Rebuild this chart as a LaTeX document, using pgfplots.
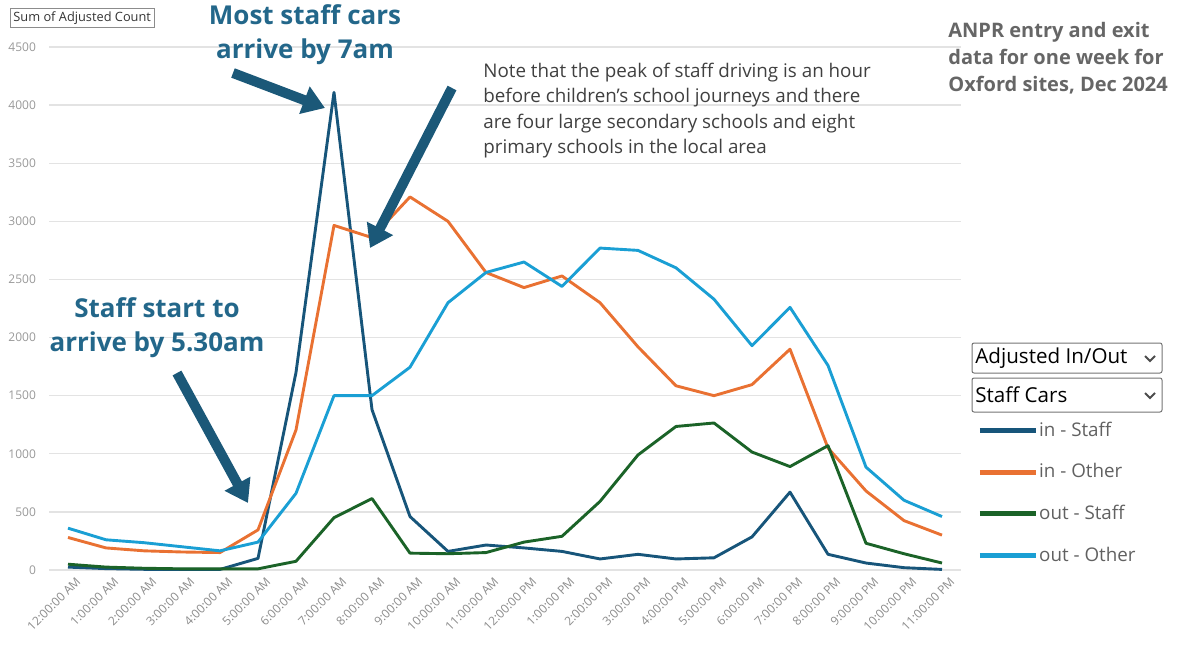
\documentclass[border=0pt]{standalone}
\usepackage{pgfplots}
\pgfplotsset{compat=1.18}
\usepackage{fontspec}
\setmainfont{Open Sans}
\usetikzlibrary{arrows.meta}
\definecolor{inStaff}{HTML}{17557A}
\definecolor{inOther}{HTML}{E97132}
\definecolor{outStaff}{HTML}{1B6328}
\definecolor{outOther}{HTML}{1A9FD4}
\definecolor{arrowc}{HTML}{1B5878}
\definecolor{annot}{HTML}{23678A}
\definecolor{gridc}{HTML}{E3E3E3}
\definecolor{tickc}{HTML}{8C8C8C}
\begin{document}
\begin{tikzpicture}
\useasboundingbox (0,0) rectangle (592pt,325pt);
\begin{axis}[
  at={(24.5pt,40pt)}, anchor=south west,
  scale only axis, width=456pt, height=261.5pt,
  xmin=-0.5, xmax=23.5, ymin=0, ymax=4500,
  axis line style={draw=none},
  major tick length=0pt,
  ymajorgrids, grid style={gridc, line width=0.7pt},
  ytick={0,500,...,4500},
  xtick={0,...,23},
  xticklabels={12:00:00 AM,1:00:00 AM,2:00:00 AM,3:00:00 AM,4:00:00 AM,5:00:00 AM,6:00:00 AM,7:00:00 AM,8:00:00 AM,9:00:00 AM,10:00:00 AM,11:00:00 AM,12:00:00 PM,1:00:00 PM,2:00:00 PM,3:00:00 PM,4:00:00 PM,5:00:00 PM,6:00:00 PM,7:00:00 PM,8:00:00 PM,9:00:00 PM,10:00:00 PM,11:00:00 PM},
  xticklabel style={rotate=45, anchor=east, font=\fontsize{6}{6.5}\selectfont, text=tickc, inner sep=0.5pt, yshift=-7pt, xshift=1pt},
  yticklabel style={font=\fontsize{6}{7}\selectfont, text=black!40, xshift=-3pt},
  /pgf/number format/1000 sep={},
  /pgf/number format/assume math mode=true,
  clip=false,
  legend style={at={(1.0175,0.292)}, anchor=north west, draw=none, fill=none,
    font=\fontsize{9.4}{11}\selectfont, text=black!62, row sep=8.2pt, inner sep=0pt,
    nodes={inner xsep=0.5pt},
    /tikz/every odd column/.style={column sep=0pt}},
  legend cell align=left,
  legend image code/.code={\draw[line width=2.4pt] (0pt,0pt) -- (28pt,0pt);},
  every axis plot/.append style={line width=1.45pt, mark=none, line join=round},
]
\addplot[inStaff] coordinates {(0,25) (1,12) (2,6) (3,5) (4,5) (5,100) (6,1700) (7,4110) (8,1380) (9,460) (10,160) (11,215) (12,190) (13,160) (14,95) (15,135) (16,95) (17,105) (18,285) (19,670) (20,135) (21,60) (22,20) (23,5)};
\addplot[inOther] coordinates {(0,280) (1,190) (2,165) (3,155) (4,150) (5,345) (6,1205) (7,2965) (8,2860) (9,3210) (10,3000) (11,2560) (12,2430) (13,2530) (14,2300) (15,1920) (16,1585) (17,1500) (18,1595) (19,1900) (20,1050) (21,680) (22,425) (23,300)};
\addplot[outStaff] coordinates {(0,50) (1,25) (2,15) (3,10) (4,10) (5,10) (6,75) (7,450) (8,615) (9,145) (10,140) (11,150) (12,240) (13,290) (14,590) (15,990) (16,1235) (17,1265) (18,1015) (19,890) (20,1070) (21,230) (22,140) (23,60)};
\addplot[outOther] coordinates {(0,360) (1,260) (2,235) (3,200) (4,165) (5,240) (6,660) (7,1500) (8,1500) (9,1745) (10,2300) (11,2560) (12,2650) (13,2440) (14,2770) (15,2750) (16,2600) (17,2330) (18,1930) (19,2260) (20,1760) (21,885) (22,600) (23,460)};
\legend{in - Staff,in - Other,out - Staff,out - Other}
\end{axis}
\begin{scope}[x=0.5pt,y=-0.5pt,shift={(0,325pt)}]
  % top-left field button
  \node[draw=black!45, line width=0.4pt, inner sep=1.5pt, anchor=west, font=\fontsize{6.4}{7}\selectfont, text=black!80] at (10,18) {Sum of Adjusted Count};
  % bold annotations
  \node[anchor=center, align=center, text=annot, font=\fontsize{13}{17}\bfseries\selectfont] at (305,35) {Most staff cars\\arrive by 7am};
  \node[anchor=center, align=center, text=annot, font=\fontsize{13}{17}\bfseries\selectfont] at (157,328) {Staff start to\\arrive by 5.30am};
  % note
  \node[anchor=north west, align=left, text=black!75, inner sep=0pt, font=\fontsize{9.4}{12.6}\selectfont] at (483,63) {Note that the peak of staff driving is an hour\\before children’s school journeys and there\\are four large secondary schools and eight\\primary schools in the local area};
  % top right
  \node[anchor=north west, align=left, text=black!60, inner sep=0pt, font=\fontsize{10}{13.5}\bfseries\selectfont] at (948,22) {ANPR entry and exit\\data for one week for\\Oxford sites, Dec 2024};
  % arrows
  \draw[arrowc, line width=5pt, -{Triangle[width=14pt,length=11pt]}] (177,373) -- (248,503);
  \draw[arrowc, line width=5pt, -{Triangle[width=14pt,length=11pt]}] (233,73) -- (325,108);
  \draw[arrowc, line width=5pt, -{Triangle[width=14pt,length=11pt]}] (452,88) -- (370,248);
  % dropdowns
  \draw[black!55, line width=0.5pt, rounded corners=1pt] (972,343) rectangle (1162,373);
  \node[anchor=west, inner sep=0pt, font=\fontsize{10.3}{12}\selectfont, text=black] at (975,358) {Adjusted In/Out};
  \draw[black!70, line width=0.9pt] (1145,356) -- (1150,361) -- (1155,356);
  \draw[black!55, line width=0.5pt, rounded corners=1pt] (972,378) rectangle (1162,412);
  \node[anchor=west, inner sep=0pt, font=\fontsize{10.3}{12}\selectfont, text=black] at (975,395) {Staff Cars};
  \draw[black!70, line width=0.9pt] (1145,393) -- (1150,398) -- (1155,393);
\end{scope}
\end{tikzpicture}
\end{document}
